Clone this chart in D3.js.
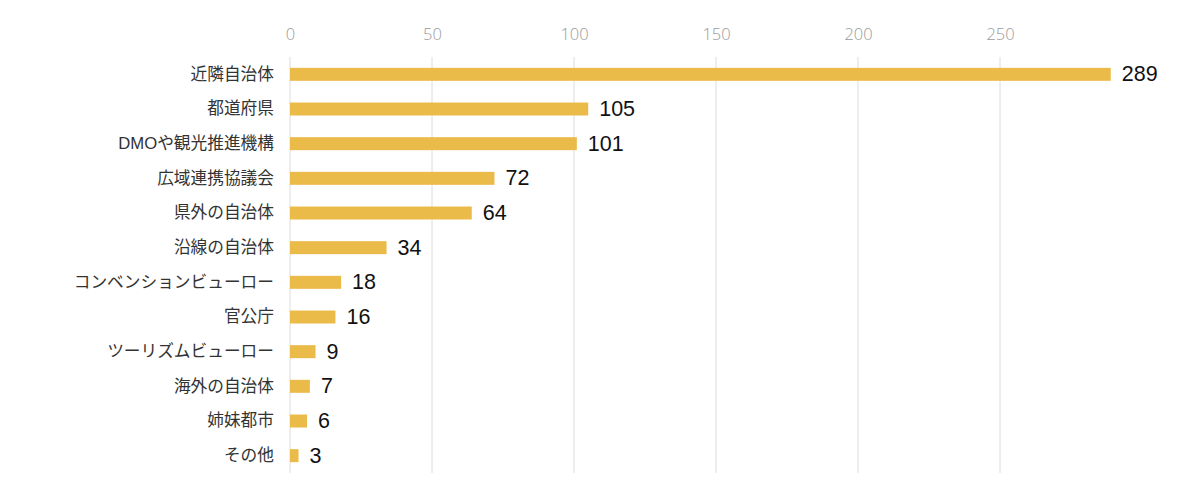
<!DOCTYPE html>
<html><head><meta charset="utf-8">
<script src="https://cdn.jsdelivr.net/npm/d3@7"></script>
<style>body{margin:0;background:#fff;}svg{display:block;}</style>
</head><body>
<svg id="c" width="1200" height="489"></svg>
<script>
const categories = ["近隣自治体","都道府県","DMOや観光推進機構","広域連携協議会","県外の自治体","沿線の自治体","コンベンションビューロー","官公庁","ツーリズムビューロー","海外の自治体","姉妹都市","その他"];
const values = [289,105,101,72,64,34,18,16,9,7,6,3];
const tickValues = [0,50,100,150,200,250];

const svg = d3.select("#c");
const x = d3.scaleLinear().domain([0,250]).range([290,1000]);
const y = d3.scaleBand().domain(categories).range([57,473]).paddingInner(0.625).paddingOuter(0.3125);

// grid
svg.append("g").selectAll("line").data(tickValues).join("line")
  .attr("x1",d=>x(d)).attr("x2",d=>x(d)).attr("y1",57).attr("y2",473)
  .attr("stroke","#dcdcdc").attr("stroke-width",1);

// top axis labels
const ax = d3.axisTop(x).tickValues(tickValues).tickSize(0).tickPadding(0);
const g = svg.append("g").attr("transform","translate(0,40)").call(ax);
g.select(".domain").remove();
g.selectAll("text").attr("font-family","'Open Sans', 'Noto Sans', sans-serif").attr("font-weight",300)
  .attr("font-size",16.5).attr("fill","#9a9a9a");

// bars
svg.append("g").selectAll("rect").data(values).join("rect")
  .attr("x",x(0)).attr("y",(d,i)=>y(categories[i]))
  .attr("width",d=>x(d)-x(0)).attr("height",y.bandwidth())
  .attr("fill","#ebbb4a");

// value labels
svg.append("g").selectAll("text").data(values).join("text")
  .attr("x",d=>x(d)+11).attr("y",(d,i)=>y(categories[i])+y.bandwidth()/2)
  .attr("dy","0.32em").attr("font-family","'Liberation Sans', Arial, sans-serif")
  .attr("font-size",21.5).attr("fill","#111").text(d=>d);

// category labels
const yl = d3.axisLeft(y).tickSize(0).tickPadding(0);
const gy = svg.append("g").attr("transform","translate(274,0)").call(yl);
gy.select(".domain").remove();
gy.selectAll("text").attr("font-family","'Liberation Sans', 'Noto Sans CJK JP', sans-serif")
  .attr("font-size",16.7).attr("fill","#333");
</script>
</body></html>
